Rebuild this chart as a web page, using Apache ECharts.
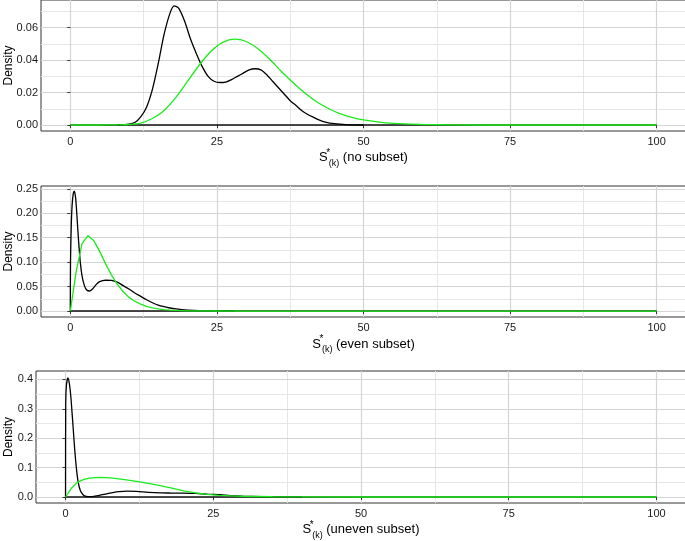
<!DOCTYPE html>
<html>
<head>
<meta charset="utf-8">
<script src="https://cdn.jsdelivr.net/npm/echarts@6/dist/echarts.min.js"></script>
<style>
  html, body { margin: 0; padding: 0; background: #fff; }
  #chart { width: 685px; height: 541px; }
</style>
</head>
<body>
<div id="chart"></div>
<script>
// tick positions
const xTicks = [0, 25, 50, 75, 100];
const xMinor = [12.5, 37.5, 62.5, 87.5];
const yTicks1 = [0, 0.02, 0.04, 0.06];
const yMinor1 = [0.01, 0.03, 0.05, 0.07];
const yTicks2 = [0, 0.05, 0.10, 0.15, 0.20, 0.25];
const yMinor2 = [0.025, 0.075, 0.125, 0.175, 0.225];
const yTicks3 = [0, 0.1, 0.2, 0.3, 0.4];
const yMinor3 = [0.05, 0.15, 0.25, 0.35];

// panel 1: no subset
const black1X = [8, 10, 11, 12, 13, 14, 15, 16, 17, 17.7, 18.5, 19.5, 20.5, 21.5, 22.5, 23.5, 24.5, 25.5, 26.5, 27.5, 28.5, 29.5, 30.5, 31.5, 32.5, 33.5, 34.5, 35.5, 36.5, 37.5, 38.5, 39.5, 40.5, 41.5, 42.5, 43.5, 45, 47, 50];
const black1Y = [0, 0.0005, 0.0015, 0.005, 0.011, 0.022, 0.038, 0.056, 0.069, 0.0735, 0.072, 0.064, 0.053, 0.044, 0.036, 0.030, 0.027, 0.0262, 0.0265, 0.028, 0.030, 0.032, 0.034, 0.0347, 0.034, 0.031, 0.027, 0.023, 0.019, 0.015, 0.012, 0.0088, 0.0065, 0.0047, 0.003, 0.0018, 0.0008, 0.0002, 0];
const green1X = [0, 5, 8, 10, 12, 14, 16, 18, 20, 22, 24, 26, 28, 30, 32, 34, 36, 38, 40, 42, 44, 46, 48, 50, 53, 56, 60, 70, 100];
const green1Y = [0, 0, 0.0001, 0.0003, 0.0012, 0.0040, 0.0090, 0.0170, 0.0270, 0.0370, 0.0455, 0.0510, 0.0530, 0.0515, 0.0470, 0.0405, 0.0330, 0.0260, 0.0197, 0.0143, 0.0102, 0.0070, 0.0047, 0.0031, 0.0016, 0.0008, 0.0003, 0, 0];

// panel 2: even subset
const black2X = [0, 0.03, 0.15, 0.3, 0.5, 0.68, 0.9, 1.1, 1.4, 1.7, 2.0, 2.4, 2.8, 3.3, 3.8, 4.4, 5, 6, 7, 8, 9, 10, 11, 12, 13, 14, 15, 16, 17, 18, 19, 20, 22, 25, 28];
const black2Y = [0, 0.10, 0.17, 0.215, 0.24, 0.245, 0.232, 0.20, 0.145, 0.10, 0.072, 0.052, 0.043, 0.041, 0.045, 0.054, 0.060, 0.063, 0.0625, 0.059, 0.052, 0.045, 0.037, 0.030, 0.023, 0.017, 0.012, 0.0088, 0.0062, 0.0042, 0.0028, 0.0018, 0.0008, 0.0002, 0];
const green2X = [0, 1, 2, 3, 4, 5, 6, 7, 8, 9, 10, 11, 12, 13, 14, 15, 16, 17, 18, 20, 25, 30, 100];
const green2Y = [0, 0.081, 0.138, 0.154, 0.144, 0.122, 0.097, 0.074, 0.055, 0.040, 0.028, 0.020, 0.014, 0.0094, 0.0064, 0.0043, 0.0029, 0.0019, 0.0012, 0.0005, 0.0001, 0, 0];

// panel 3: uneven subset
const black3X = [0, 0.03, 0.15, 0.4, 0.65, 0.9, 1.2, 1.5, 1.8, 2.1, 2.5, 3, 3.5, 4.2, 5, 6, 7, 8, 9, 10.4, 12, 14, 16, 18, 20, 22, 24, 26, 28, 30, 33, 36, 40];
const black3Y = [0, 0.32, 0.38, 0.405, 0.385, 0.34, 0.26, 0.175, 0.105, 0.055, 0.022, 0.007, 0.002, 0.001, 0.003, 0.007, 0.011, 0.015, 0.018, 0.020, 0.019, 0.016, 0.014, 0.0135, 0.013, 0.012, 0.010, 0.008, 0.005, 0.003, 0.0012, 0.0004, 0];
const green3X = [0, 1, 2, 3, 4, 5, 6, 7, 8, 10, 12, 14, 16, 18, 20, 22, 24, 26, 28, 30, 35, 40, 50, 100];
const green3Y = [0, 0.030, 0.050, 0.059, 0.064, 0.066, 0.0667, 0.066, 0.064, 0.059, 0.053, 0.046, 0.039, 0.030, 0.021, 0.014, 0.009, 0.0058, 0.0038, 0.0025, 0.0008, 0.0002, 0, 0];

const baseX = [0, 100];
const baseY = [0, 0];

const titles = ['no subset', 'even subset', 'uneven subset'];

const FONT = '"Liberation Sans", Arial, sans-serif';
const GREEN = '#1aeb1a';

function pairs(xs, ys) {
  return xs.map((x, i) => [x, ys[i]]);
}

const panels = [
  { grid: { left: 41, top: 0, right: -1, height: 131 }, ymin: -0.0037, ymax: 0.0771, yt: yTicks1, ym: yMinor1, dec: 2, nameGap: 16, yGap: 26,
    black: pairs(black1X, black1Y), green: pairs(green1X, green1Y), greenSmooth: true },
  { grid: { left: 41, top: 186, right: -1, height: 131 }, ymin: -0.0122, ymax: 0.2557, yt: yTicks2, ym: yMinor2, dec: 2, nameGap: 17, yGap: 26,
    black: pairs(black2X, black2Y), green: pairs(green2X, green2Y), greenSmooth: false },
  { grid: { left: 36, top: 371, right: -1, height: 132 }, ymin: -0.0204, ymax: 0.4284, yt: yTicks3, ym: yMinor3, dec: 1, nameGap: 15, yGap: 21,
    black: pairs(black3X, black3Y), green: pairs(green3X, green3Y), greenSmooth: false }
];

const grid = [], xAxis = [], yAxis = [], series = [];

panels.forEach((p, i) => {
  grid.push(Object.assign({ show: true, borderColor: '#333', borderWidth: 1, backgroundColor: '#fff',
    containLabel: false, outerBoundsMode: 'none' }, p.grid));
  // major x axis
  xAxis.push({
    type: 'value', gridIndex: i, min: -5, max: 105, z: 3,
    axisLine: { show: false },
    axisTick: { show: true, length: 3, lineStyle: { color: '#333' }, customValues: xTicks },
    axisLabel: { show: true, margin: 5, fontSize: 11, color: '#1a1a1a', fontFamily: FONT, customValues: xTicks },
    splitLine: { show: true, lineStyle: { color: '#d4d4d4', width: 1.2 } },
    name: '{s|S}{sup|*}{sub|(k)}{t| (' + titles[i] + ')}',
    nameLocation: 'middle', nameGap: p.nameGap,
    nameTextStyle: {
      fontFamily: FONT, color: '#000',
      rich: {
        s: { fontSize: 13, lineHeight: 20, fontFamily: FONT, color: '#000' },
        sup: { fontSize: 10, lineHeight: 13, verticalAlign: 'top', width: 1, fontFamily: FONT, color: '#000' },
        sub: { fontSize: 9, lineHeight: 10, verticalAlign: 'bottom', fontFamily: FONT, color: '#000' },
        t: { fontSize: 13, lineHeight: 20, fontFamily: FONT, color: '#000' }
      }
    }
  });
  // minor x grid
  xAxis.push({
    type: 'value', gridIndex: i, min: -5, max: 105, z: 2,
    axisLine: { show: false }, axisLabel: { show: false },
    axisTick: { show: false, customValues: xMinor },
    splitLine: { show: true, lineStyle: { color: '#e6e6e6', width: 1 } }
  });
  // major y axis
  yAxis.push({
    type: 'value', gridIndex: i, min: p.ymin, max: p.ymax, z: 3,
    axisLine: { show: false },
    axisTick: { show: true, length: 3, lineStyle: { color: '#333' }, customValues: p.yt },
    axisLabel: { show: true, margin: 3, fontSize: 11, color: '#1a1a1a', fontFamily: FONT, customValues: p.yt,
      formatter: v => Number(v).toFixed(p.dec) },
    splitLine: { show: true, lineStyle: { color: '#d4d4d4', width: 1.2 } },
    name: 'Density', nameLocation: 'middle', nameGap: p.yGap, nameRotate: 90, nameMoveOverlap: false,
    nameTextStyle: { fontSize: 12, color: '#000', fontFamily: FONT }
  });
  // minor y grid
  yAxis.push({
    type: 'value', gridIndex: i, min: p.ymin, max: p.ymax, z: 2,
    axisLine: { show: false }, axisLabel: { show: false },
    axisTick: { show: false, customValues: p.ym },
    splitLine: { show: true, lineStyle: { color: '#e6e6e6', width: 1 } }
  });

  const xi = i * 2, yi = i * 2;
  series.push({
    type: 'line', xAxisIndex: xi, yAxisIndex: yi, data: pairs(baseX, baseY),
    symbol: 'none', lineStyle: { color: '#111', width: 1.4 }, silent: true, z: 4
  });
  series.push({
    type: 'line', xAxisIndex: xi, yAxisIndex: yi, data: p.black,
    symbol: 'none', smooth: 0.25,
    lineStyle: { color: '#000', width: 1.3 }, silent: true, z: 5
  });
  series.push({
    type: 'line', xAxisIndex: xi, yAxisIndex: yi, data: p.green,
    symbol: 'none', smooth: p.greenSmooth ? 0.3 : false,
    lineStyle: { color: GREEN, width: 1.3 }, silent: true, z: 6
  });
});

const myChart = echarts.init(document.getElementById('chart'));
myChart.setOption({
  animation: false,
  backgroundColor: '#fff',
  textStyle: { fontFamily: FONT },
  grid: grid,
  xAxis: xAxis,
  yAxis: yAxis,
  series: series
});
</script>
</body>
</html>
